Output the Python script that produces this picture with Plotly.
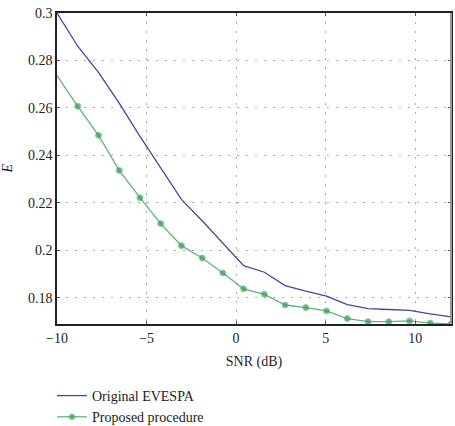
import plotly.graph_objects as go
import numpy as np

snr = list(np.linspace(-10, 12, 20))
original_evespa = [0.300, 0.286, 0.275, 0.262, 0.248, 0.235, 0.2215, 0.2125, 0.203, 0.1936,
                   0.1908, 0.1852, 0.1828, 0.1807, 0.1772, 0.1755, 0.1751, 0.1747, 0.1733, 0.1720]
proposed = [0.2736, 0.2607, 0.2485, 0.2337, 0.2222, 0.2113, 0.2020, 0.1968, 0.1905, 0.1838,
            0.1815, 0.1770, 0.1759, 0.1745, 0.1713, 0.1700, 0.1700, 0.1703, 0.1694, 0.1690]
x_ticks = [-10, -5, 0, 5, 10]
x_tick_labels = ["\u221210", "\u22125", "0", "5", "10"]
y_ticks = [0.18, 0.2, 0.22, 0.24, 0.26, 0.28, 0.3]
y_tick_labels = ["0.18", "0.2", "0.22", "0.24", "0.26", "0.28", "0.3"]

FONT = "Liberation Serif"
TF = dict(family=FONT, size=14, color="#222")

fig = go.Figure()
fig.add_trace(go.Scatter(x=snr, y=original_evespa, mode="lines", name="Original EVESPA",
                         line=dict(color="#3b4c9e", width=1.3)))
fig.add_trace(go.Scatter(x=snr, y=proposed, mode="lines+markers", name="Proposed procedure",
                         line=dict(color="#5bb57a", width=1.3),
                         marker=dict(color="#2f9a4c", size=[0] + [6] * 19)))

fig.update_layout(
    width=455, height=426,
    margin=dict(l=57, r=4, t=13, b=102, autoexpand=False),
    paper_bgcolor="white", plot_bgcolor="white",
    font=TF,
    showlegend=True,
    legend=dict(xref="container", yref="container", x=52 / 455, y=1 - 380 / 426,
                xanchor="left", yanchor="top", orientation="v",
                font=TF, bgcolor="rgba(0,0,0,0)", tracegroupgap=0, itemwidth=30),
)
fig.update_xaxes(range=[-10, 12], tickvals=x_ticks, ticktext=x_tick_labels, tickfont=TF,
                 showgrid=True, gridcolor="#aaa", griddash="2px,7px", gridwidth=1.2,
                 showline=True, linecolor="#222", linewidth=1.5, mirror="ticks",
                 ticks="inside", ticklen=3, tickcolor="#555", zeroline=False,
                 title=dict(text="SNR (dB)", font=TF, standoff=12))
fig.update_yaxes(range=[0.169, 0.3], tickvals=y_ticks, ticktext=y_tick_labels, tickfont=TF,
                 showgrid=True, gridcolor="#aaa", griddash="2px,7px", gridwidth=1.2,
                 showline=True, linecolor="#222", linewidth=1.5, mirror="ticks",
                 ticks="inside", ticklen=3, tickcolor="#555", zeroline=False)
fig.add_annotation(text="<i>E</i>", xref="paper", yref="paper", x=-50 / 394, y=0.5,
                   xanchor="center", yanchor="middle", showarrow=False, textangle=-90, font=TF)
fig.add_shape(type="line", xref="paper", yref="paper", x0=1, x1=1, y0=0, y1=1,
              line=dict(color="#999", width=2))

fig.write_html("out.html")
